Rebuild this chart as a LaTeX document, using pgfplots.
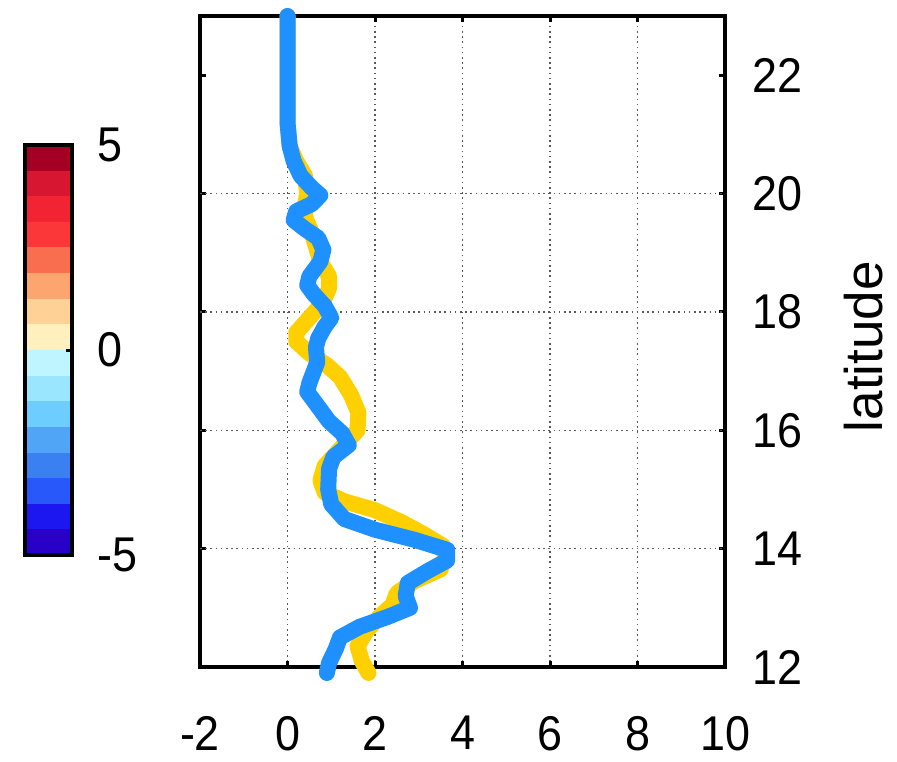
\documentclass[border=0pt]{standalone}
\usepackage{pgfplots}
\pgfplotsset{compat=1.18}
\usepackage{fontspec}
\setmainfont{Liberation Sans}
\newfontfamily\tickfont[FakeStretch=0.92]{Liberation Sans}
\definecolor{lineblue}{RGB}{30,144,255}
\definecolor{lineyellow}{RGB}{255,208,0}
\definecolor{cb1}{RGB}{40,0,200}
\definecolor{cb2}{RGB}{28,22,240}
\definecolor{cb3}{RGB}{40,88,250}
\definecolor{cb4}{RGB}{58,128,242}
\definecolor{cb5}{RGB}{80,165,247}
\definecolor{cb6}{RGB}{110,205,255}
\definecolor{cb7}{RGB}{155,230,255}
\definecolor{cb8}{RGB}{190,245,255}
\definecolor{cb9}{RGB}{255,240,190}
\definecolor{cb10}{RGB}{254,210,150}
\definecolor{cb11}{RGB}{252,165,110}
\definecolor{cb12}{RGB}{250,110,80}
\definecolor{cb13}{RGB}{252,55,57}
\definecolor{cb14}{RGB}{242,35,50}
\definecolor{cb15}{RGB}{215,22,50}
\definecolor{cb16}{RGB}{165,0,36}
\begin{document}
\begin{tikzpicture}
\useasboundingbox (0,0) rectangle (448.5pt,380.5pt);
% colorbar
\begin{axis}[
  at={(12.5pt,103pt)}, anchor=south west,
  scale only axis, width=23.5pt, height=205pt,
  xmin=0, xmax=1, ymin=-5, ymax=5,
  xtick=\empty, ytick={-5,0,5},
  ytick pos=right, yticklabel pos=right,
  axis on top,
  axis line style={line width=2pt},
  major tick length=3pt,
  tick style={line width=1.5pt, black},
  /pgf/number format/assume math mode=true,
  yticklabel style={inner sep=0pt, xshift=12.5pt, font=\tickfont\fontsize{24.4}{26}\selectfont},
]
\addplot[fill=cb1, draw=none] coordinates {(0,-5) (1,-5) (1,-4.375) (0,-4.375)} -- cycle;
\addplot[fill=cb2, draw=none] coordinates {(0,-4.375) (1,-4.375) (1,-3.75) (0,-3.75)} -- cycle;
\addplot[fill=cb3, draw=none] coordinates {(0,-3.75) (1,-3.75) (1,-3.125) (0,-3.125)} -- cycle;
\addplot[fill=cb4, draw=none] coordinates {(0,-3.125) (1,-3.125) (1,-2.5) (0,-2.5)} -- cycle;
\addplot[fill=cb5, draw=none] coordinates {(0,-2.5) (1,-2.5) (1,-1.875) (0,-1.875)} -- cycle;
\addplot[fill=cb6, draw=none] coordinates {(0,-1.875) (1,-1.875) (1,-1.25) (0,-1.25)} -- cycle;
\addplot[fill=cb7, draw=none] coordinates {(0,-1.25) (1,-1.25) (1,-0.625) (0,-0.625)} -- cycle;
\addplot[fill=cb8, draw=none] coordinates {(0,-0.625) (1,-0.625) (1,0) (0,0)} -- cycle;
\addplot[fill=cb9, draw=none] coordinates {(0,0) (1,0) (1,0.625) (0,0.625)} -- cycle;
\addplot[fill=cb10, draw=none] coordinates {(0,0.625) (1,0.625) (1,1.25) (0,1.25)} -- cycle;
\addplot[fill=cb11, draw=none] coordinates {(0,1.25) (1,1.25) (1,1.875) (0,1.875)} -- cycle;
\addplot[fill=cb12, draw=none] coordinates {(0,1.875) (1,1.875) (1,2.5) (0,2.5)} -- cycle;
\addplot[fill=cb13, draw=none] coordinates {(0,2.5) (1,2.5) (1,3.125) (0,3.125)} -- cycle;
\addplot[fill=cb14, draw=none] coordinates {(0,3.125) (1,3.125) (1,3.75) (0,3.75)} -- cycle;
\addplot[fill=cb15, draw=none] coordinates {(0,3.75) (1,3.75) (1,4.375) (0,4.375)} -- cycle;
\addplot[fill=cb16, draw=none] coordinates {(0,4.375) (1,4.375) (1,5) (0,5)} -- cycle;
\end{axis}
% main axis
\begin{axis}[
  at={(100pt,47pt)}, anchor=south west,
  scale only axis, width=262.5pt, height=325.5pt,
  xmin=-2, xmax=10, ymin=12, ymax=23,
  xtick={-2,0,...,10}, ytick={12,14,...,22},
  yticklabel pos=right,
  xmajorgrids=true,
  extra y ticks={14,16,18,20}, extra y tick labels={},
  extra y tick style={grid=major, major tick length=0pt},
  major grid style={black!65, line width=0.7pt, dash pattern=on 0.8pt off 1.8pt},
  axis line style={line width=2pt},
  major tick length=3pt,
  tick style={line width=1.5pt, black},
  clip=false,
  /pgf/number format/assume math mode=true,
  xticklabel style={inner sep=0pt, anchor=north, yshift=-24.5pt, font=\tickfont\fontsize{24.4}{26}\selectfont},
  yticklabel style={inner sep=0pt, xshift=13.5pt, font=\tickfont\fontsize{24.4}{26}\selectfont},
  ylabel={latitude},
  every axis y label/.style={at={(axis description cs:1.263,0.492)}, anchor=center, rotate=90, inner sep=0pt, font=\fontsize{26.5}{28}\selectfont},
]
\addplot[color=lineyellow, line width=8pt, line cap=round, line join=round, no marks] coordinates {
(0.0,23.0) (0.0,22.0) (0.0,21.2) (0.05,20.8) (0.2,20.55) (0.4,20.3) (0.45,20.0)
(0.4,19.8) (0.4,19.6) (0.55,19.35) (0.65,19.1) (0.75,18.85) (0.95,18.6) (0.95,18.4)
(0.8,18.15) (0.5,17.9) (0.2,17.65) (0.2,17.5) (0.5,17.3) (0.9,17.1) (1.2,16.9)
(1.45,16.6) (1.62,16.3) (1.6,16.0) (1.35,15.8) (1.1,15.6) (0.85,15.4) (0.75,15.15)
(0.85,14.95) (1.3,14.8) (2.0,14.65) (2.6,14.45) (3.1,14.25) (3.55,14.05) (3.6,13.85)
(3.5,13.65) (2.9,13.45) (2.5,13.25) (2.4,13.05) (2.1,12.85) (1.8,12.6) (1.6,12.35)
(1.7,12.1) (1.85,11.9)
};
\addplot[color=lineblue, line width=8pt, line cap=round, line join=round, no marks] coordinates {
(0.0,23.0) (0.0,22.0) (0.0,21.2) (0.05,20.8) (0.14,20.55) (0.3,20.3) (0.55,20.1)
(0.75,19.97) (0.55,19.82) (0.2,19.7) (0.14,19.55) (0.4,19.4) (0.7,19.25) (0.82,19.05)
(0.75,18.85) (0.5,18.6) (0.45,18.45) (0.6,18.3) (0.85,18.1) (1.0,17.9) (0.85,17.75)
(0.7,17.55) (0.65,17.4) (0.68,17.15) (0.5,16.8) (0.45,16.65) (0.7,16.4) (0.95,16.15)
(1.25,15.95) (1.4,15.75) (1.05,15.55) (0.95,15.35) (0.93,15.0) (1.0,14.75) (1.3,14.5)
(2.0,14.32) (2.9,14.15) (3.65,13.98) (3.65,13.8) (3.2,13.62) (2.75,13.42) (2.7,13.2)
(2.8,13.0) (2.3,12.85) (1.65,12.68) (1.2,12.5) (1.1,12.3) (0.95,12.07) (0.9,11.9)
};
\end{axis}
\end{tikzpicture}
\end{document}
